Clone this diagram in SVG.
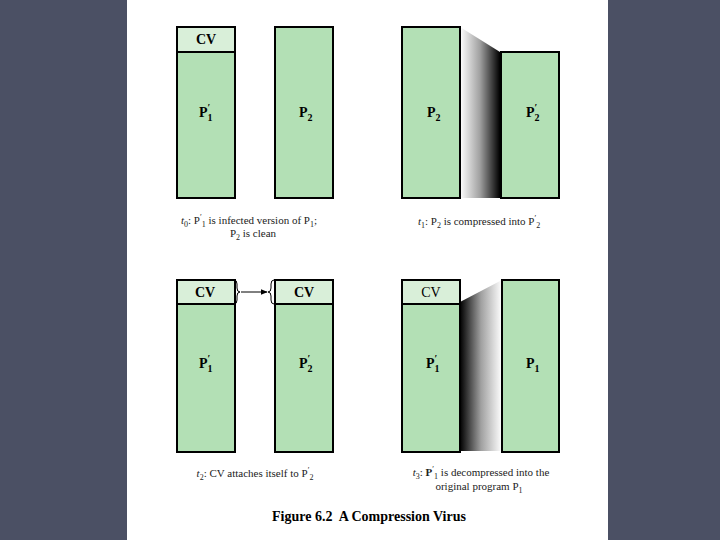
<svg xmlns="http://www.w3.org/2000/svg" width="720" height="540" viewBox="0 0 720 540">
<defs>
<style>
.prog{fill:#b3e0b5;stroke:#000;stroke-width:2}
.cv{fill:#d9efd9;stroke:#000;stroke-width:2}
.lbl{font-family:"Liberation Serif","Times New Roman",serif;font-size:14px;font-weight:bold;fill:#000}
.lblr{font-family:"Liberation Serif","Times New Roman",serif;font-size:14px;fill:#000}
.cap{font-family:"Liberation Serif","Times New Roman",serif;font-size:11px;fill:#222}
.title{font-family:"Liberation Serif","Times New Roman",serif;font-size:14px;font-weight:bold;fill:#000}
.sub{font-size:10px}
.it{font-style:italic}
</style>
<linearGradient id="gComp" x1="0" y1="0" x2="1" y2="0">
<stop offset="0" stop-color="#ffffff"/>
<stop offset="0.5" stop-color="#a0a0a0"/>
<stop offset="1" stop-color="#000000"/>
</linearGradient>
<linearGradient id="gDecomp" x1="0" y1="0" x2="1" y2="0">
<stop offset="0" stop-color="#000000"/>
<stop offset="0.5" stop-color="#a0a0a0"/>
<stop offset="1" stop-color="#ffffff"/>
</linearGradient>
<marker id="arr" viewBox="0 0 10 10" refX="9" refY="5" markerWidth="7" markerHeight="7" orient="auto">
<path d="M0,1 L10,5 L0,9 Z" fill="#000"/>
</marker>
</defs>
<rect x="0" y="0" width="720" height="540" fill="#4b5064"/>
<rect x="127" y="0" width="481" height="540" fill="#ffffff"/>

<!-- compression / decompression shading -->
<g id="shading">
<polygon points="460,27 500,52 500,198 460,198" fill="url(#gComp)"/>
<polygon points="460,302 502,280 502,451 460,451" fill="url(#gDecomp)"/>
</g>

<!-- t0 -->
<g id="t0-infected">
<rect class="prog" x="177" y="52" width="58" height="146"/>
<rect class="cv" x="177" y="27" width="58" height="25"/>
<text class="lbl" x="206" y="44" text-anchor="middle">CV</text>
<text class="lbl" x="199" y="117">P<tspan font-size="10" dy="-6">′</tspan><tspan class="sub" dx="-3" dy="10">1</tspan></text>
</g>
<g id="t0-clean">
<rect class="prog" x="275" y="27" width="58" height="171"/>
<text class="lbl" x="299" y="117">P<tspan class="sub" dy="4">2</tspan></text>
</g>
<text class="cap" x="249" y="224" text-anchor="middle"><tspan class="it">t</tspan><tspan font-size="8" dy="3">0</tspan><tspan dy="-3">: P</tspan><tspan font-size="8" dy="-4">′</tspan><tspan font-size="8" dy="7">1</tspan><tspan dy="-3"> is infected version of P</tspan><tspan font-size="8" dy="3">1</tspan><tspan dy="-3">;</tspan></text>
<text class="cap" x="253" y="237" text-anchor="middle">P<tspan font-size="8" dy="3">2</tspan><tspan dy="-3"> is clean</tspan></text>

<!-- t1 -->
<g id="t1-original">
<rect class="prog" x="402" y="27" width="58" height="171"/>
<text class="lbl" x="427" y="117">P<tspan class="sub" dy="4">2</tspan></text>
</g>
<g id="t1-compressed">
<rect class="prog" x="501" y="52" width="58" height="146"/>
<text class="lbl" x="526" y="117">P<tspan font-size="10" dy="-6">′</tspan><tspan class="sub" dx="-3" dy="10">2</tspan></text>
</g>
<text class="cap" x="479" y="225" text-anchor="middle"><tspan class="it">t</tspan><tspan font-size="8" dy="3">1</tspan><tspan dy="-3">: P</tspan><tspan font-size="8" dy="3">2</tspan><tspan dy="-3"> is compressed into P</tspan><tspan font-size="8" dy="-4">′</tspan><tspan font-size="8" dy="7">2</tspan></text>

<!-- t2 -->
<g id="t2-source">
<rect class="prog" x="177" y="304" width="58" height="148"/>
<rect class="cv" x="177" y="280" width="58" height="24"/>
<text class="lbl" x="205" y="297" text-anchor="middle">CV</text>
<text class="lbl" x="199" y="368">P<tspan font-size="10" dy="-6">′</tspan><tspan class="sub" dx="-3" dy="10">1</tspan></text>
</g>
<g id="t2-target">
<rect class="prog" x="275" y="304" width="58" height="148"/>
<rect class="cv" x="275" y="280" width="58" height="24"/>
<text class="lbl" x="304" y="297" text-anchor="middle">CV</text>
<text class="lbl" x="299" y="368">P<tspan font-size="10" dy="-6">′</tspan><tspan class="sub" dx="-3" dy="10">2</tspan></text>
</g>
<g id="connectors" fill="none" stroke="#000" stroke-width="1">
<path d="M234,280 Q237,280 237,284 L237,288 Q237,292 240,292 Q237,292 237,296 L237,300 Q237,304 234,304"/>
<path d="M274,280 Q271,280 271,284 L271,288 Q271,292 268,292 Q271,292 271,296 L271,300 Q271,304 274,304"/>
<line x1="241" y1="292" x2="267" y2="292" marker-end="url(#arr)"/>
</g>
<text class="cap" x="255" y="477" text-anchor="middle"><tspan class="it">t</tspan><tspan font-size="8" dy="3">2</tspan><tspan dy="-3">: CV attaches itself to P</tspan><tspan font-size="8" dy="-4">′</tspan><tspan font-size="8" dy="7">2</tspan></text>

<!-- t3 -->
<g id="t3-infected">
<rect class="prog" x="402" y="304" width="58" height="148"/>
<rect class="cv" x="402" y="280" width="58" height="24"/>
<text class="lblr" x="431" y="297" text-anchor="middle">CV</text>
<text class="lbl" x="426" y="368">P<tspan font-size="10" dy="-6">′</tspan><tspan class="sub" dx="-3" dy="10">1</tspan></text>
</g>
<g id="t3-original">
<rect class="prog" x="502" y="280" width="57" height="172"/>
<text class="lbl" x="526" y="368">P<tspan class="sub" dy="4">1</tspan></text>
</g>
<text class="cap" x="481" y="476" text-anchor="middle"><tspan class="it">t</tspan><tspan font-size="8" dy="3">3</tspan><tspan dy="-3">: </tspan><tspan font-weight="bold">P</tspan><tspan font-size="8" dy="-4">′</tspan><tspan font-size="8" dy="7">1</tspan><tspan dy="-3"> is decompressed into the</tspan></text>
<text class="cap" x="479" y="490" text-anchor="middle">original program P<tspan font-size="8" dy="3">1</tspan></text>

<text class="title" x="272" y="521" xml:space="preserve">Figure 6.2  A Compression Virus</text>
</svg>
